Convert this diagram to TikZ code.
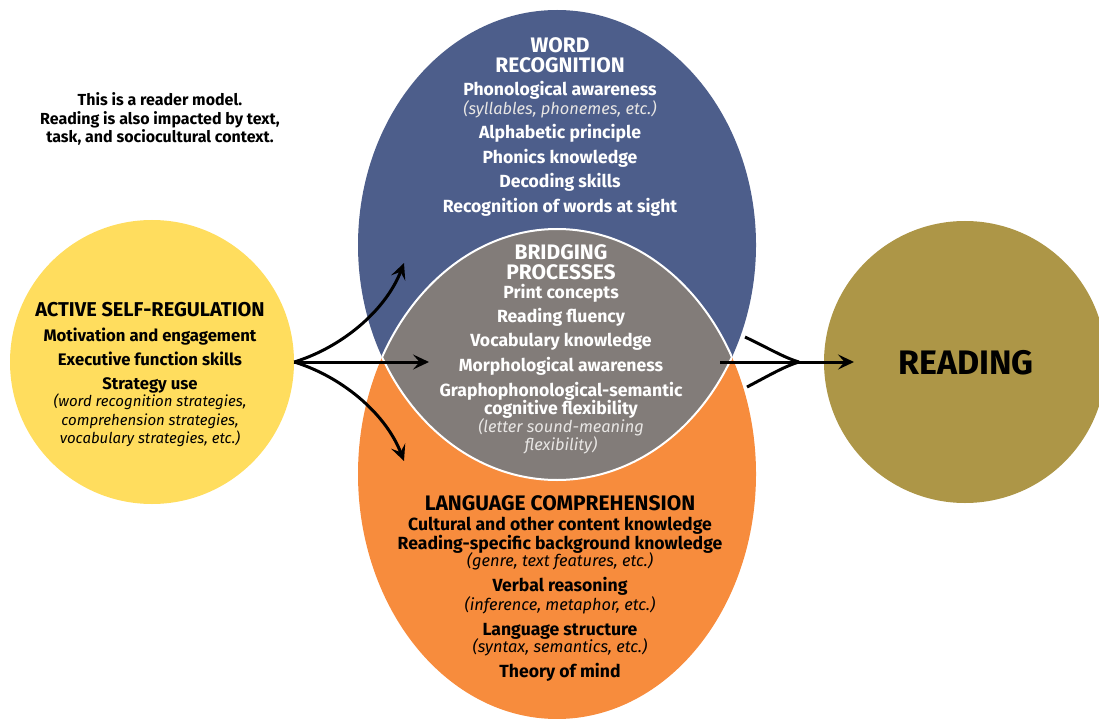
\documentclass[tikz,border=0pt]{standalone}
\usepackage{fontspec}
\setmainfont{Fira Sans}
\usetikzlibrary{arrows.meta}
\definecolor{cyellow}{HTML}{FFDD5E}
\definecolor{cblue}{HTML}{4D5E8B}
\definecolor{cgray}{HTML}{827C79}
\definecolor{corange}{HTML}{F78C3D}
\definecolor{cgold}{HTML}{AD9647}
\definecolor{clight}{HTML}{E8E6E4}
\begin{document}
\begin{tikzpicture}[x=1pt,y=-1pt,
  every node/.style={inner sep=0pt, anchor=base},
  head/.style={font=\bfseries\fontsize{21}{22}\selectfont},
  item/.style={font=\bfseries\fontsize{17.6}{19}\selectfont},
  ital/.style={font=\itshape\fontsize{16.4}{18}\selectfont},
  yhead/.style={font=\bfseries\fontsize{20}{22}\selectfont},
  yitem/.style={font=\bfseries\fontsize{16.7}{18}\selectfont},
  yital/.style={font=\itshape\fontsize{15}{18}\selectfont},
  note/.style={font=\bfseries\fontsize{16}{18}\selectfont},
  arr/.style={line width=3pt, -{Stealth[length=16pt,width=15pt,inset=6.5pt]}},
  plain/.style={line width=3pt}]
\useasboundingbox (0,0) rectangle (1099,719);

% circles
\node[circle, fill=cyellow, minimum size=284pt, anchor=center] (asr) at (152,362) {};
\node[circle, fill=cgold, minimum size=282pt, anchor=center] (reading) at (965,362) {};

% ellipses
\fill[cblue] (557,245) ellipse [x radius=199pt, y radius=235pt];
\fill[corange] (557,474) ellipse [x radius=199pt, y radius=245pt];
\begin{scope}
  \clip (557,245) ellipse [x radius=199pt, y radius=235pt];
  \fill[cgray] (557,474) ellipse [x radius=199pt, y radius=245pt];
  \draw[white, line width=2pt] (557,474) ellipse [x radius=199pt, y radius=245pt];
\end{scope}
\begin{scope}
  \clip (557,474) ellipse [x radius=199pt, y radius=245pt];
  \draw[white, line width=2pt] (557,245) ellipse [x radius=199pt, y radius=235pt];
\end{scope}

% note
\node[note] (n1) at (160,105.5) {This is a reader model.};
\node[note] (n2) at (160,124.5) {Reading is also impacted by text,};
\node[note] (n3) at (160,142.5) {task, and sociocultural context.};

% active self-regulation
\node[yhead] (a0) at (150,316) {ACTIVE SELF-REGULATION};
\node[yitem] (a1) at (150,341) {Motivation and engagement};
\node[yitem] (a2) at (150,365) {Executive function skills};
\node[yitem] (a3) at (150,389) {Strategy use};
\node[yital] (a4) at (150,406.5) {(word recognition strategies,};
\node[yital] (a5) at (150,425) {comprehension strategies,};
\node[yital] (a6) at (150,443.5) {vocabulary strategies, etc.)};

% word recognition
\begin{scope}[every node/.append style={text=white}]
\node[head] (w0) at (560,53) {WORD};
\node[head] (w1) at (560,72.5) {RECOGNITION};
\node[item] (w2) at (560,96) {Phonological awareness};
\node[ital, text=clight] (w3) at (560,114.5) {(syllables, phonemes, etc.)};
\node[item] (w4) at (560,139) {Alphabetic principle};
\node[item] (w5) at (560,164) {Phonics knowledge};
\node[item] (w6) at (560,188) {Decoding skills};
\node[item] (w7) at (560,212.5) {Recognition of words at sight};

% bridging processes
\node[head] (b0) at (561,259.5) {BRIDGING};
\node[head] (b1) at (561,279.5) {PROCESSES};
\node[item] (b2) at (561,298) {Print concepts};
\node[item] (b3) at (561,322.5) {Reading fluency};
\node[item] (b4) at (561,346) {Vocabulary knowledge};
\node[item] (b5) at (561,371) {Morphological awareness};
\node[item] (b6) at (561,396) {Graphophonological-semantic};
\node[item] (b7) at (561,414) {cognitive flexibility};
\node[ital, text=clight] (b8) at (561,432.5) {(letter sound-meaning};
\node[ital, text=clight] (b9) at (561,450) {flexibility)};
\end{scope}

% language comprehension
\node[head] (l0) at (560,510.5) {LANGUAGE COMPREHENSION};
\node[item] (l1) at (560,530) {Cultural and other content knowledge};
\node[item] (l2) at (560,549) {Reading-specific background knowledge};
\node[ital] (l3) at (560,566.5) {(genre, text features, etc.)};
\node[item] (l4) at (560,591.5) {Verbal reasoning};
\node[ital] (l5) at (560,610) {(inference, metaphor, etc.)};
\node[item] (l6) at (560,635) {Language structure};
\node[ital] (l7) at (560,652.5) {(syntax, semantics, etc.)};
\node[item] (l8) at (560,677) {Theory of mind};

% reading label
\node[font=\bfseries\fontsize{34}{36}\selectfont] (rl) at (966,374) {READING};

% arrows from active self-regulation
\coordinate (tu) at (404,263);
\coordinate (tm) at (429,362);
\coordinate (td) at (404,461);
\draw[arr] (asr.east) .. controls (340,348) and (385,312) .. (tu);
\draw[arr] (asr.east) -- (tm);
\draw[arr] (asr.east) .. controls (340,376) and (385,412) .. (td);

% arrows into reading
\coordinate (rs) at (720,362);
\coordinate (rt) at (854,362);
\coordinate (m) at (799,362);
\coordinate (mu) at (745,337);
\coordinate (md) at (747,387);
\draw[arr] (rs) -- (rt);
\draw[plain] (mu) .. controls (768,348) and (785,358) .. (m);
\draw[plain] (md) .. controls (768,376) and (785,366) .. (m);
\end{tikzpicture}
\end{document}
